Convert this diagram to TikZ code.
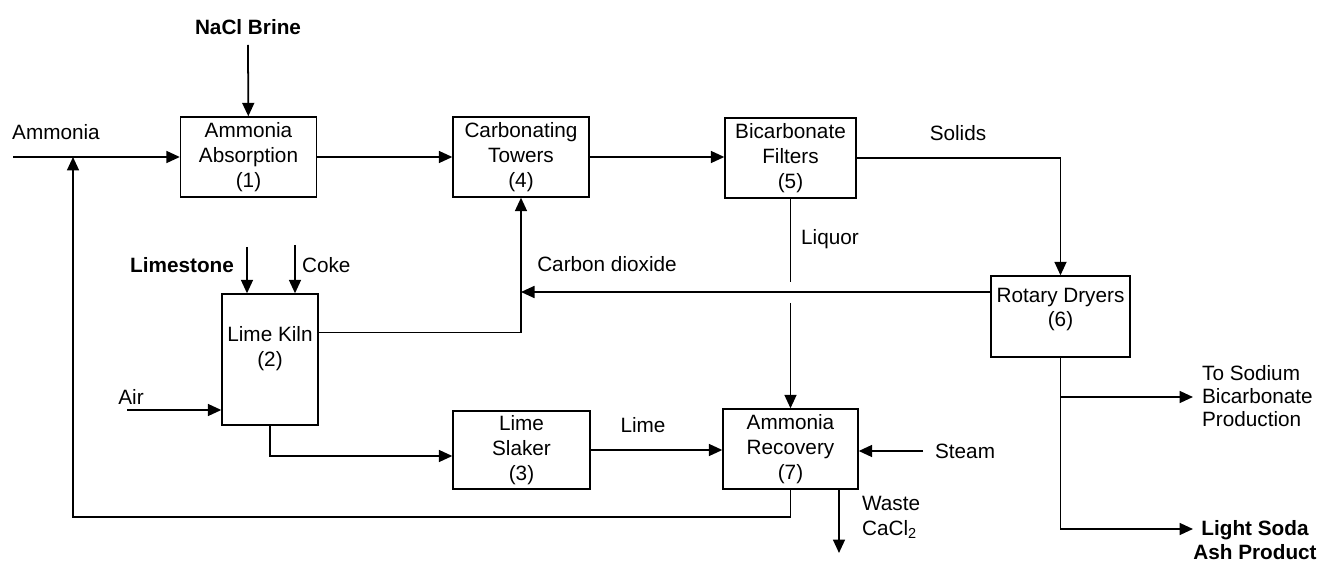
\documentclass[tikz,border=0pt]{standalone}
\usepackage{fontspec}
\setmainfont{Liberation Sans}
\usetikzlibrary{positioning,calc,arrows.meta}

\begin{document}
\begin{tikzpicture}[x=0.02cm,y=-0.02cm,
  every node/.style={font=\fontsize{11.8}{14.2}\selectfont,align=center,inner sep=1pt},
  tag/.style={font=\fontsize{11.8}{13.6}\selectfont\bfseries},
  unit/.style={draw,line width=0.8pt,minimum width=2.72cm,minimum height=1.6cm},
  flow/.style={line width=1pt,-{Triangle[length=2.7mm,width=2.4mm]}},
  pipe/.style={line width=1pt}]
  \useasboundingbox (0,0) rectangle (1323,564);

  \node[unit] (absorb) at (248.5,157) {Ammonia\\Absorption\\(1)};
  \node[unit] (towers) at (521,157) {Carbonating\\Towers\\(4)};
  \node[unit,minimum width=2.62cm] (filters) at (790.5,158) {Bicarbonate\\Filters\\(5)};
  \node[unit,minimum width=2.78cm,minimum height=1.62cm,
        label={[name=dryerstxt,yshift=0.14cm]center:Rotary Dryers\\(6)}] (dryers) at (1060.5,316.5) {};
  \node[unit,minimum width=1.92cm,minimum height=2.62cm,
        label={[name=kilntxt,yshift=0.22cm]center:Lime Kiln\\(2)}] (kiln) at (270,359.5) {};
  \node[unit,minimum width=2.74cm,minimum height=1.56cm] (slaker) at (521.5,450) {Lime\\Slaker\\(3)};
  \node[unit,minimum width=2.7cm] (recovery) at (790.5,449) {Ammonia\\Recovery\\(7)};

  \node[tag] (brine) at (248,27) {NaCl Brine};
  \coordinate (brinetop) at (248,45);
  \draw[flow] (brinetop) -- (absorb);

  \node (nh3lbl) at (56,132) {Ammonia};
  \coordinate (nh3) at (13,157);
  \coordinate (mix) at (73,157);
  \draw[flow] (nh3) -- (absorb);
  \draw[flow] (recovery.south) -- ++(0,27) -| (mix);

  \draw[flow] (absorb) -- (towers);
  \draw[flow] (towers.east) -- (towers.east -| filters.west);

  \node (solidslbl) at (958,133) {Solids};
  \draw[flow] (filters.east) -| (dryers.north);

  \node (liqlbl) at (830,239) {Liquor};
  \coordinate (lqa) at (790.5,282);
  \coordinate (lqb) at (790.5,303);
  \draw[pipe] (filters.south) -- (lqa);
  \draw[flow] (lqb) -- (recovery.north);

  \node (co2lbl) at (607,264) {Carbon dioxide};
  \coordinate (co2) at (521,292);
  \draw[flow] (dryers.west |- co2) -- (co2);
  \draw[flow] ($(kiln.east)+(0,-27)$) -| (towers.south);

  \node[tag,anchor=east] (lslbl) at (236,265) {Limestone};
  \coordinate (ls) at (247,247);
  \draw[flow] (ls) -- (ls |- kiln.north);
  \node[anchor=west] (cklbl) at (300,265) {Coke};
  \coordinate (ck) at (295,245);
  \draw[flow] (ck) -- (ck |- kiln.north);

  \node (airlbl) at (131,397) {Air};
  \coordinate (air) at (127,410);
  \draw[flow] (air) -- (air -| kiln.west);

  \draw[flow] (kiln.south) |- ($(slaker.west)+(0,6)$);

  \node (limelbl) at (643,425) {Lime};
  \draw[flow] (slaker.east) -- (slaker.east -| recovery.west);

  \node[anchor=west] (steamlbl) at (933,451) {Steam};
  \coordinate (steam) at (923,451);
  \draw[flow] (steam) -- (steam -| recovery.east);

  \node[anchor=west,align=left] (wastelbl) at (860,517) {Waste\\CaCl\textsubscript{2}};
  \coordinate (waste) at (839,553);
  \draw[flow] (waste |- recovery.south) -- (waste);

  \coordinate (bic) at (1193,397);
  \coordinate (ash) at (1193,529);
  \draw[flow] (dryers.south) |- (ash);
  \draw[flow] (dryers.south |- bic) -- (bic);
  \node[anchor=west,align=left,font=\fontsize{11.8}{13}\selectfont] (biclbl) at (1200,396) {To Sodium\\Bicarbonate\\Production};
  \node[tag] (ashlbl) at (1255,540) {Light Soda\\Ash Product};
\end{tikzpicture}
\end{document}
